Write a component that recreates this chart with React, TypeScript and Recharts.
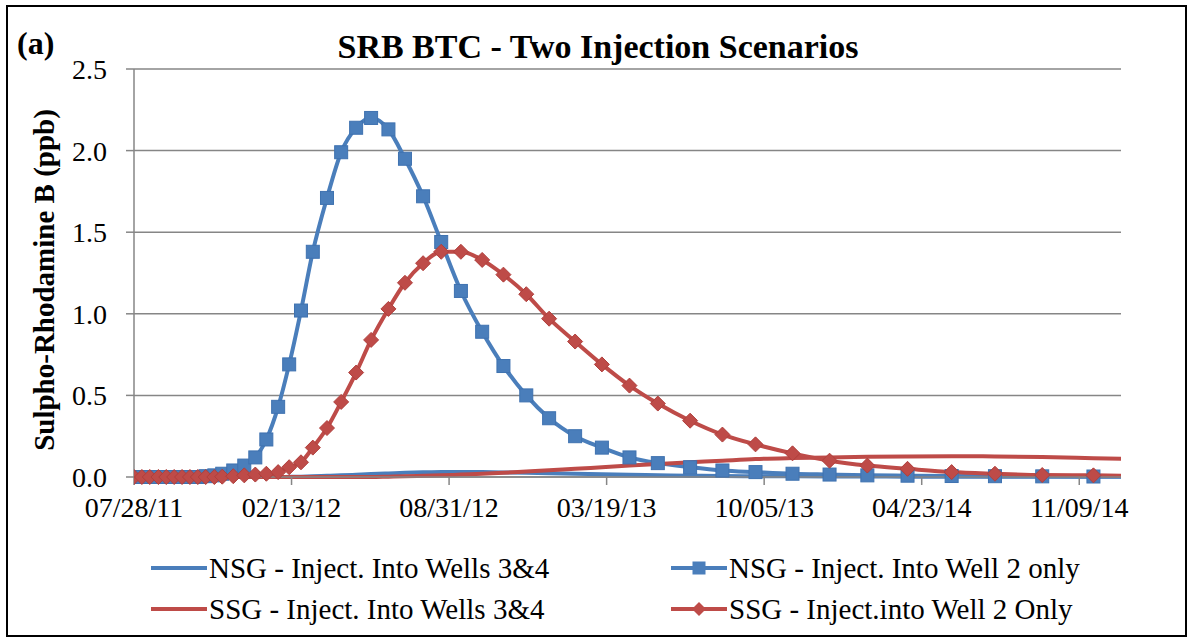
import React from "react";
import { CartesianGrid, Line, LineChart, XAxis, YAxis } from "recharts";

// Simulated breakthrough curves, x = days since 07/28/11 (model output steps)
const days = [
  0, 10, 20, 31, 41, 51, 61, 71, 81, 91, 102, 112, 126, 140, 154, 168, 183,
  197, 212, 227, 245, 263, 282, 301, 323, 344, 367, 390, 415, 442, 469, 498,
  527, 560, 594, 629, 665, 706, 747, 789, 836, 883, 931, 982, 1038, 1093,
  1153, 1218, 1283,
];

const nsgWells34 = [
  0, 0, 0, 0, 0, 0, 0, 0, 0, 0, 0, 0, 0, 0, 0, 0, 0, 0.001, 0.002, 0.004,
  0.007, 0.01, 0.014, 0.018, 0.022, 0.026, 0.029, 0.031, 0.031, 0.03, 0.028,
  0.026, 0.023, 0.02, 0.017, 0.014, 0.011, 0.008, 0.006, 0.005, 0.004, 0.003,
  0.003, 0.002, 0.002, 0.002, 0.001, 0.001, 0.001,
];

const nsgWell2 = [
  0, 0, 0, 0, 0, 0, 0, 0, 0, 0.005, 0.01, 0.02, 0.04, 0.07, 0.12, 0.23, 0.43,
  0.69, 1.02, 1.38, 1.71, 1.99, 2.14, 2.2, 2.13, 1.95, 1.72, 1.44, 1.14, 0.89,
  0.68, 0.5, 0.36, 0.25, 0.18, 0.12, 0.085, 0.06, 0.04, 0.03, 0.02, 0.015,
  0.01, 0.008, 0.006, 0.005, 0.004, 0.003, 0.002,
];

const ssgWells34 = [
  0, 0, 0, 0, 0, 0, 0, 0, 0, 0, 0, 0, 0, 0, 0, 0, 0, 0, 0, 0, 0, 0, 0, 0,
  0.002, 0.004, 0.007, 0.01, 0.015, 0.02, 0.026, 0.034, 0.042, 0.05, 0.06,
  0.07, 0.08, 0.09, 0.1, 0.11, 0.116, 0.12, 0.124, 0.126, 0.127, 0.126, 0.122,
  0.115, 0.108,
];

const ssgWell2 = [
  0, 0, 0, 0, 0, 0, 0, 0, 0, 0, 0, 0.002, 0.005, 0.01, 0.015, 0.02, 0.03,
  0.06, 0.09, 0.18, 0.3, 0.46, 0.64, 0.84, 1.03, 1.19, 1.31, 1.38, 1.38, 1.33,
  1.24, 1.12, 0.97, 0.83, 0.69, 0.56, 0.45, 0.345, 0.26, 0.2, 0.145, 0.1,
  0.07, 0.05, 0.03, 0.02, 0.012, 0.01, 0.007,
];

const xTicks = [0, 200, 400, 600, 800, 1000, 1200];
const yTicks = [0, 0.5, 1, 1.5, 2, 2.5];

const data = days.map((d, i) => ({
  d,
  nsg34: nsgWells34[i],
  nsg2: nsgWell2[i],
  ssg34: ssgWells34[i],
  ssg2: ssgWell2[i],
}));

const BLUE = "#4a7ebb";
const RED = "#be4b48";
const GRID = "#868686";
const FONT = '"Liberation Serif", "Times New Roman", serif';
const START = Date.UTC(2011, 6, 28);

const pad = (n: number) => String(n).padStart(2, "0");
const fmtDate = (d: number) => {
  const t = new Date(START + d * 86400000);
  return `${pad(t.getUTCMonth() + 1)}/${pad(t.getUTCDate())}/${pad(t.getUTCFullYear() % 100)}`;
};

const Square = (props: any) => {
  const { cx, cy, index } = props;
  if (cx == null || cy == null) return <g key={`s${index}`} />;
  return (
    <rect key={`s${index}`} x={cx - 6.5} y={cy - 6.5} width={13} height={13}
      fill={BLUE} stroke="#3f72b0" strokeWidth={1} />
  );
};

const Diamond = (props: any) => {
  const { cx, cy, index } = props;
  if (cx == null || cy == null) return <g key={`d${index}`} />;
  const r = 7.5;
  return (
    <polygon key={`d${index}`}
      points={`${cx},${cy - r} ${cx + r},${cy} ${cx},${cy + r} ${cx - r},${cy}`}
      fill={RED} stroke="#b03f3c" strokeWidth={1} />
  );
};

const legendItems = [
  { label: "NSG - Inject. Into Wells 3&4", color: BLUE, marker: null, x: 151, y: 568 },
  { label: "NSG - Inject. Into Well 2 only", color: BLUE, marker: "square", x: 671, y: 568 },
  { label: "SSG - Inject. Into Wells 3&4", color: RED, marker: null, x: 151, y: 609 },
  { label: "SSG - Inject.into Well 2 Only", color: RED, marker: "diamond", x: 671, y: 609 },
];

function LegendSwatch({ color, marker }: { color: string; marker: string | null }) {
  return (
    <svg width={56} height={16} style={{ display: "block" }}>
      <line x1={0} y1={8} x2={56} y2={8} stroke={color} strokeWidth={4} />
      {marker === "square" && <rect x={21.5} y={1.5} width={13} height={13} fill={color} />}
      {marker === "diamond" && <polygon points="28,1 35,8 28,15 21,8" fill={color} />}
    </svg>
  );
}

export default function App() {
  return (
    <div style={{ position: "absolute", left: 0, top: 0, width: 1188, height: 643, background: "#fff", fontFamily: FONT, color: "#000" }}>
      <div style={{ position: "absolute", left: 6, top: 5, width: 1177, height: 628, border: "2px solid #000" }} />
      <div style={{ position: "absolute", left: 17, top: 27, fontSize: 32, lineHeight: "32px", fontWeight: "bold" }}>(a)</div>
      <div style={{ position: "absolute", left: 0, top: 30, width: 1196, textAlign: "center", fontSize: 34, lineHeight: "34px", fontWeight: "bold" }}>
        SRB BTC - Two Injection Scenarios
      </div>
      <div style={{ position: "absolute", left: 44 - 200, top: 280 - 17, width: 400, height: 34, lineHeight: "34px", textAlign: "center", fontSize: 29, fontWeight: "bold", transform: "rotate(-90deg)", whiteSpace: "nowrap" }}>
        Sulpho-Rhodamine B (ppb)
      </div>
      <div style={{ position: "absolute", left: 0, top: 0 }}>
        <LineChart width={1188} height={643} data={data} margin={{ top: 69, right: 67, bottom: 126, left: 0 }}>
          <CartesianGrid vertical={false} stroke={GRID} strokeWidth={1.5} />
          <XAxis dataKey="d" type="number" domain={[0, 1253]} allowDataOverflow ticks={xTicks}
            tickFormatter={fmtDate} height={40} tickSize={8} tickMargin={12}
            axisLine={{ stroke: GRID, strokeWidth: 1.5 }} tickLine={{ stroke: GRID, strokeWidth: 1.5 }}
            tick={{ fill: "#000", fontSize: 28, fontFamily: FONT }} />
          <YAxis type="number" domain={[0, 2.5]} ticks={yTicks} width={134} tickSize={8} tickMargin={19}
            tickFormatter={(v: number) => v.toFixed(1)}
            axisLine={{ stroke: GRID, strokeWidth: 1.5 }} tickLine={{ stroke: GRID, strokeWidth: 1.5 }}
            tick={{ fill: "#000", fontSize: 28, fontFamily: FONT }} />
          <Line dataKey="nsg34" type="monotone" stroke={BLUE} strokeWidth={4} dot={false} isAnimationActive={false} />
          <Line dataKey="nsg2" type="monotone" stroke={BLUE} strokeWidth={4} dot={Square} isAnimationActive={false} />
          <Line dataKey="ssg34" type="monotone" stroke={RED} strokeWidth={4} dot={false} isAnimationActive={false} />
          <Line dataKey="ssg2" type="monotone" stroke={RED} strokeWidth={4} dot={Diamond} isAnimationActive={false} />
        </LineChart>
      </div>
      {legendItems.map((it) => (
        <div key={it.label} style={{ position: "absolute", left: it.x, top: it.y - 17, height: 34, display: "flex", alignItems: "center", fontSize: 29, whiteSpace: "nowrap" }}>
          <LegendSwatch color={it.color} marker={it.marker} />
          <span style={{ marginLeft: 2 }}>{it.label}</span>
        </div>
      ))}
    </div>
  );
}
